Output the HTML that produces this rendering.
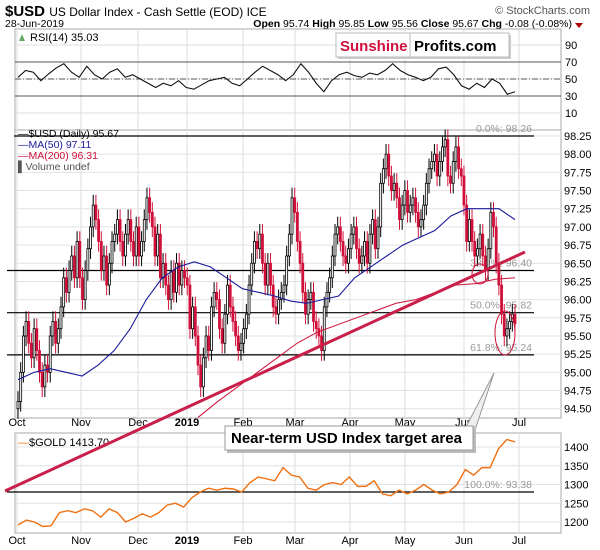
<!DOCTYPE html>
<html><head><meta charset="utf-8"><style>
body{margin:0;background:#fff}
svg{display:block;font-family:"Liberation Sans",sans-serif}
</style></head><body>
<svg id="c" width="600" height="550" viewBox="0 0 600 550">
<rect x="0" y="0" width="600" height="550" fill="#fff"/>
<text x="5" y="16" font-size="15" font-weight="bold">$USD <tspan font-size="12" font-weight="normal">US Dollar Index - Cash Settle (EOD) ICE</tspan></text>
<text x="590" y="14" font-size="11" fill="#555" text-anchor="end">© StockCharts.com</text>
<text x="5" y="27" font-size="10.5">28-Jun-2019</text>
<text x="572" y="27" font-size="10.5" text-anchor="end"><tspan font-weight="bold">Open</tspan> 95.74 <tspan font-weight="bold">High</tspan> 95.85 <tspan font-weight="bold">Low</tspan> 95.56 <tspan font-weight="bold">Close</tspan> 95.67 <tspan font-weight="bold">Chg</tspan> -0.08 (-0.08%)</text>
<path d="M575 23 L583 23 L579 28 Z" fill="#a00"/>
<g id="grid"></g>
<g id="rsi"></g>
<g id="main"></g>
<g id="gold"></g>
<g id="ann"></g>
</svg>
<script>
const closes=[94.6,95.0,95.5,95.7,95.4,95.2,95.6,95.3,95.0,94.8,95.1,95.0,95.5,95.7,95.4,95.6,95.9,96.3,96.1,96.4,96.6,96.3,96.8,
96.3,96.0,96.4,96.7,97.0,97.3,97.1,96.8,96.4,96.6,96.2,96.5,96.8,96.9,97.1,96.8,96.6,96.9,97.1,96.8,96.6,
97.0,96.6,96.8,97.1,97.4,97.2,97.0,96.6,96.9,96.3,96.5,96.2,96.0,96.4,96.1,96.5,96.2,96.4,96.3,96.2,
95.6,95.9,95.5,95.1,94.8,95.2,95.5,95.3,95.9,96.1,96.0,95.6,95.4,95.8,96.2,95.9,95.7,95.5,95.3,95.4,95.6,
95.8,96.2,96.5,96.8,96.7,96.9,96.5,96.2,96.5,96.2,95.9,95.8,96.0,96.1,96.2,96.6,96.9,97.4,
97.2,96.8,96.5,96.1,95.8,96.0,96.1,95.7,95.6,95.5,95.3,95.9,96.1,96.3,96.6,96.9,97.0,96.8,96.6,96.5,
96.7,96.9,97.0,96.7,96.5,96.6,96.8,96.5,96.9,97.1,96.7,97.0,97.6,97.8,98.0,97.7,97.5,97.6,97.4,97.1,97.3,
97.5,97.2,97.3,97.4,97.2,97.0,97.1,97.3,97.6,97.8,97.9,98.0,97.7,97.9,98.1,98.2,97.7,97.6,97.9,98.1,97.8,97.7,
97.3,96.8,97.1,96.8,96.6,96.7,96.9,96.6,96.4,96.7,97.2,97.0,96.5,96.2,95.8,95.5,95.6,95.7,95.8,95.67];
const ma50=[94.9,95.0,95.05,95.0,94.95,95.1,95.3,95.6,96.0,96.3,96.45,96.52,96.45,96.3,96.15,96.1,96.05,95.98,95.95,96.0,96.05,96.3,96.45,96.6,96.75,96.85,96.95,97.15,97.25,97.25,97.25,97.1];
const ma200=[94.38,94.6,94.8,95.0,95.2,95.4,95.55,95.65,95.75,95.85,95.95,96.0,96.1,96.2,96.22,96.28,96.3];
const rsi=[52,60,58,48,56,63,68,58,52,65,55,50,58,62,52,55,50,45,40,45,42,48,40,38,43,48,50,52,45,42,50,58,65,60,55,48,55,68,58,45,35,48,55,58,54,52,57,55,60,68,60,55,52,48,52,62,64,55,42,38,45,40,50,45,32,35];
const gold=[1192,1205,1200,1188,1190,1225,1230,1225,1235,1230,1213,1235,1225,1200,1210,1222,1213,1225,1245,1250,1240,1265,1280,1290,1285,1290,1288,1280,1305,1320,1315,1310,1345,1325,1320,1290,1285,1300,1305,1300,1320,1295,1295,1310,1275,1270,1285,1275,1285,1300,1285,1275,1280,1300,1340,1325,1345,1345,1395,1420,1413.7];
const monthLabels=["Oct","Nov","Dec","2019","Feb","Mar","Apr","May","Jun","Jul"];
const monthX=[17,81,138,187,243,295,350,405,464,519];
const priceTicks=["98.25","98.00","97.75","97.50","97.25","97.00","96.75","96.50","96.25","96.00","95.75","95.50","95.25","95.00","94.75","94.50"];
const rsiTicks=[90,70,50,30,10];
const goldTicks=[1400,1350,1300,1250,1200];
const fibLevels=[98.26,96.40,95.82,95.24];
const fibNames=["0.0%","38.2%","50.0%","61.8%"];

const NS="http://www.w3.org/2000/svg";
function el(p,t,a){const e=document.createElementNS(NS,t);for(const k in a)e.setAttribute(k,a[k]);p.appendChild(e);return e;}
const X0=18,X1=515,L=15,R=561;
const xi=(i,n)=>X0+i*(X1-X0)/(n-1);
const yP=v=>136+(98.25-v)*72.72;
const yR=v=>79-(v-50)*0.85;
const yG=v=>447+(1400-v)*0.375;
const G=document.getElementById('grid'),RS=document.getElementById('rsi'),M=document.getElementById('main'),GD=document.getElementById('gold'),A=document.getElementById('ann');

[[29,130],[130,418],[433,533]].forEach(([t,b],k)=>{
  const r=el(G,'rect',{x:L,y:t,width:R-L,height:b-t,fill:'none',stroke:'#aaa','stroke-width':1});
  
  
});
monthX.forEach(x=>{[[29,130],[130,418],[433,533]].forEach(([t,b])=>{
  const l=el(G,'line',{x1:x,x2:x,y1:t,y2:b,stroke:'#ddd'});
  
  
});});
rsiTicks.forEach(v=>{
  const l=el(G,'line',{x1:L,x2:R,y1:yR(v),y2:yR(v),stroke:'#ddd'});
  
  
  const t=el(RS,'text',{x:565,y:yR(v)+4,'font-size':11});t.textContent=v;
  
  
});
[70,30].forEach(v=>{const l=el(RS,'line',{x1:L,x2:R,y1:yR(v),y2:yR(v),stroke:'#555'});
  
  });
const mid=el(RS,'line',{x1:L,x2:R,y1:yR(50),y2:yR(50),stroke:'#555','stroke-dasharray':'6,2,1,2'});


const rl=el(RS,'polyline',{points:rsi.map((v,i)=>xi(i,rsi.length)+','+yR(v)).join(' '),fill:'none',stroke:'#111','stroke-width':1.1});


const rt=el(RS,'text',{x:30,y:41,'font-size':11});rt.textContent='RSI(14) 35.03';


el(RS,'path',{d:'M19 41 L22 34 L25 41 Z',fill:'#6a6'});

priceTicks.forEach(s=>{const v=+s;
  const l=el(G,'line',{x1:L,x2:R,y1:yP(v),y2:yP(v),stroke:'#e2e2e2'});
  
  
  const t=el(M,'text',{x:564,y:yP(v)+4,'font-size':11});t.textContent=s;
  
  
});
fibLevels.forEach((v,k)=>{
  const y=k==0?136:yP(v);
  const l=el(M,'line',{x1:k==0?14:7,x2:534,y1:y,y2:y,stroke:'#000','stroke-width':1.2});
  
  
  const t=el(M,'text',{x:532,y:y-4,'font-size':10.5,fill:'#999','text-anchor':'end'});t.textContent=fibNames[k]+': '+v.toFixed(2);
  
  
});
const N=closes.length,cw=2;
closes.forEach((c,i)=>{
  const o=i?closes[i-1]:c-0.1;const x=xi(i,N);
  const hi=Math.max(o,c)+0.14,lo=Math.min(o,c)-0.14;
  const up=c>=o,col=up?'#000':'#d0103a';
  const w=el(M,'line',{x1:x,x2:x,y1:yP(hi),y2:yP(lo),stroke:col,'stroke-width':1});
  
  
  const b=el(M,'rect',{x:x-cw/2,y:yP(Math.max(o,c)),width:cw,height:Math.max(1,Math.abs(yP(o)-yP(c))),fill:up?'#fff':col,stroke:col,'stroke-width':0.8});
  
  
});
const m5=el(M,'polyline',{points:ma50.map((v,i)=>xi(i,ma50.length)+','+yP(v)).join(' '),fill:'none',stroke:'#1a1a9a','stroke-width':1.1});


const x200=198;
const m2=el(M,'polyline',{points:ma200.map((v,i)=>(x200+i*(X1-x200)/(ma200.length-1))+','+yP(v)).join(' '),fill:'none',stroke:'#d0103a','stroke-width':1});


[['\u2014$USD (Daily) 95.67','#000',137],['\u2014MA(50) 97.11','#1a1a9a',148],['\u2014MA(200) 96.31','#d0103a',159],['\u258cVolume undef','#555',170]].forEach(([s,c,y])=>{
  const t=el(M,'text',{x:18,y:y,'font-size':10.5,fill:c});t.textContent=s;
  
  
});
monthLabels.forEach((s,k)=>{[426,544].forEach(y=>{
  const t=el(M,'text',{x:monthX[k],y:y,'font-size':11,'text-anchor':'middle','font-weight':s=='2019'?'bold':'normal'});t.textContent=s;
  
  
});});
goldTicks.forEach(v=>{
  const l=el(G,'line',{x1:L,x2:R,y1:yG(v),y2:yG(v),stroke:'#e2e2e2'});
  
  
  const t=el(GD,'text',{x:564,y:yG(v)+4,'font-size':11});t.textContent=v;
  
  
});
const gl=el(GD,'line',{x1:7,x2:534,y1:492,y2:492,stroke:'#000','stroke-width':1.2});


const gt=el(GD,'text',{x:532,y:488,'font-size':10.5,fill:'#999','text-anchor':'end'});gt.textContent='100.0%: 93.38';


const gp=el(GD,'polyline',{points:gold.map((v,i)=>xi(i,gold.length)+','+yG(v)).join(' '),fill:'none',stroke:'#f07010','stroke-width':1.4});


const glg=el(GD,'text',{x:18,y:446,'font-size':11});glg.innerHTML='<tspan fill="#f07010">\u2014</tspan>$GOLD 1413.70';



const tl=el(A,'line',{x1:5,y1:491,x2:525,y2:252,stroke:'#c8204a','stroke-width':3});


[[480,274,8,10],[505,333,10,22]].forEach(([cx,cy,rx,ry])=>{
  const e=el(A,'ellipse',{cx,cy,rx,ry,fill:'none',stroke:'#d0103a','stroke-width':1});
  
  
});
const pl=el(A,'path',{d:'M466 427 L494 373 L476 427 Z',fill:'#eee',stroke:'#999'});


el(A,'rect',{x:227,y:428,width:249,height:25,fill:'#bbb'});
const cb=el(A,'rect',{x:225,y:426,width:248,height:24,fill:'#fff',stroke:'#999'});


const ct=el(A,'text',{x:231,y:443,'font-size':15,'font-weight':'bold'});ct.textContent='Near-term USD Index target area';


el(A,'rect',{x:338,y:35,width:173,height:24,fill:'#ccc'});
const sb=el(A,'rect',{x:336,y:33,width:173,height:24,fill:'#fff',stroke:'#bbb'});


el(A,'line',{x1:410,x2:410,y1:33,y2:57,stroke:'#bbb'});
const st=el(A,'text',{x:340,y:51,'font-size':15,'font-weight':'bold'});st.innerHTML='<tspan fill="#d0103a">Sunshine</tspan><tspan x="414" fill="#000">Profits.com</tspan>';


</script>
</body></html>
